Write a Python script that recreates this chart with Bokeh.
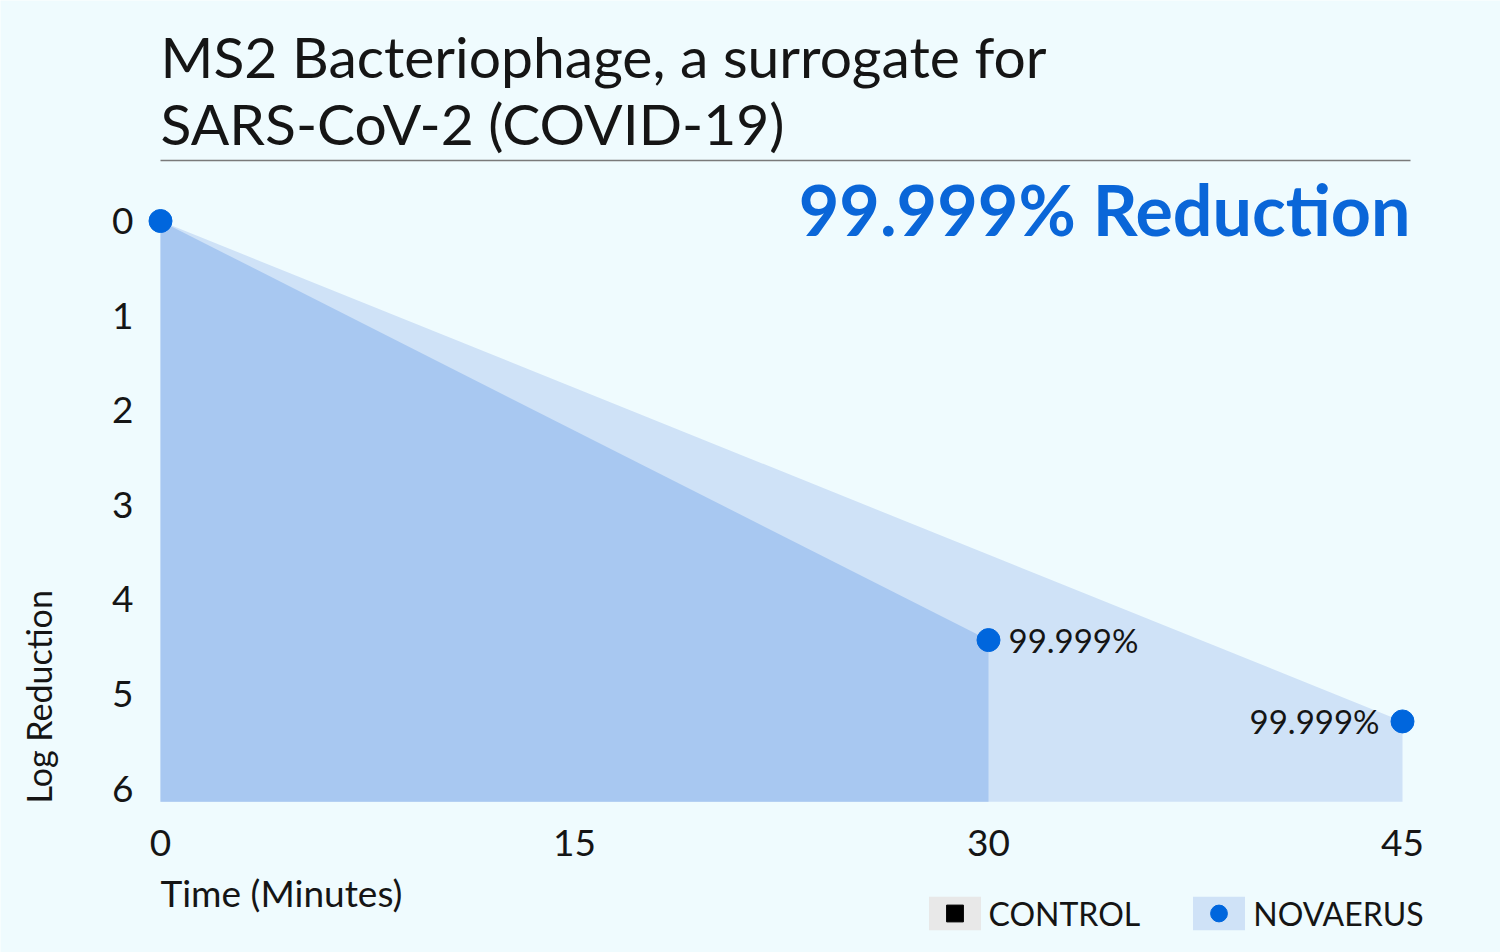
import numpy as np
from bokeh.plotting import figure
from bokeh.models import Range1d, FixedTicker, Label, Legend, LegendItem
from bokeh.core.properties import value
from bokeh.embed import file_html
from bokeh.resources import INLINE

# ---------------- data ----------------
title_lines = ["MS2 Bacteriophage, a surrogate for", "SARS-CoV-2 (COVID-19)"]
headline = "99.999% Reduction"
x_ticks = [0, 15, 30, 45]
y_ticks = [0, 1, 2, 3, 4, 5, 6]
x_label = "Time (Minutes)"
y_label = "Log Reduction"
series_names = ["CONTROL", "NOVAERUS"]

short_time = [0, 30]          # 30-minute test
short_log = [0, 4.43]
long_time = [0, 45]           # 45-minute test
long_log = [0, 5.29]
point_time = [0, 30, 45]
point_log = [0, 4.43, 5.29]
point_text = ["", "99.999%", "99.999%"]
control_time = [np.nan]       # control: not plotted, legend only
control_log = [np.nan]
base_log = 6.14

# ---------------- style ----------------
BG = "#effbfe"
FONT = "Lato"
TXT = "#151515"
W, H = 1500, 952
PX_X = 27.6            # pixels per minute
PX_Y = 94.6            # pixels per log unit
X0, Y0 = 160.0, 220.5  # screen position of (0, 0)
RIGHT = (1410 - X0) / PX_X   # right edge of the title rule / headline

p = figure(width=W, height=H, output_backend="svg", toolbar_location=None,
           x_range=Range1d(-X0 / PX_X, (W - X0) / PX_X),
           y_range=Range1d((H - Y0) / PX_Y, -Y0 / PX_Y),
           min_border=0)
p.background_fill_color = BG
p.border_fill_color = BG
p.outline_line_color = None
p.grid.visible = False

for ax, ticks, standoff, loc in ((p.xaxis, x_ticks, 22, base_log),
                                 (p.yaxis, y_ticks, 21, 0)):
    ax.ticker = FixedTicker(ticks=ticks)
    ax.fixed_location = loc
    ax.axis_line_color = None
    ax.major_tick_line_color = None
    ax.minor_tick_line_color = None
    ax.major_label_text_font = FONT
    ax.major_label_text_font_size = "37px"
    ax.major_label_text_color = TXT
    ax.major_label_standoff = standoff

light = p.varea(x=long_time, y1=long_log, y2=base_log, fill_color="#cfe2f7")
dark = p.varea(x=short_time, y1=short_log, y2=base_log, fill_color="#a8c8f1")
pts = p.scatter(x=point_time, y=point_log, size=23, color="#0066dd")

p.text(x=[point_time[1]], y=[point_log[1]], text=[point_text[1]], x_offset=20,
       text_align="left", text_baseline="middle", text_font=value(FONT),
       text_font_size="33px", text_color=TXT)
p.text(x=[point_time[2]], y=[point_log[2]], text=[point_text[2]], x_offset=-23,
       text_align="right", text_baseline="middle", text_font=value(FONT),
       text_font_size="33px", text_color=TXT)

# title block
p.add_layout(Label(x=0, y=(55 - Y0) / PX_Y, text=title_lines[0], text_font=FONT,
                   text_font_size="57px", text_color=TXT, text_baseline="middle"))
p.add_layout(Label(x=0, y=(122.5 - Y0) / PX_Y, text=title_lines[1], text_font=FONT,
                   text_font_size="57px", text_color=TXT, text_baseline="middle"))
rule_y = (160 - Y0) / PX_Y
p.segment(x0=[x_ticks[0]], x1=[RIGHT], y0=[rule_y], y1=[rule_y],
          line_color="#7a7a7a", line_width=1.5)
p.add_layout(Label(x=RIGHT, y=(208.5 - Y0) / PX_Y, text=headline, text_font=FONT,
                   text_font_style="bold", text_font_size="70px", text_color="#0a66d8",
                   text_align="right", text_baseline="middle"))

# axis titles
p.add_layout(Label(x=0, y=(891.5 - Y0) / PX_Y, text=x_label, text_font=FONT,
                   text_font_size="37px", text_color=TXT, text_baseline="middle"))
p.add_layout(Label(x=(38 - X0) / PX_X, y=(803 - Y0) / PX_Y, text=y_label, angle=np.pi / 2,
                   text_font=FONT, text_font_size="34px", text_color=TXT,
                   text_align="left", text_baseline="middle"))

# legend
ctrl_area = p.varea(x=control_time, y1=control_log, y2=control_log, fill_color="#e8e8e8")
ctrl_pts = p.scatter(x=control_time, y=control_log, marker="square", size=17, color="black")
legend = Legend(items=[LegendItem(label=series_names[0], renderers=[ctrl_area, ctrl_pts]),
                       LegendItem(label=series_names[1], renderers=[light, pts])],
                location=(921.5, 18), orientation="horizontal",
                glyph_width=65, glyph_height=42, label_standoff=2, spacing=46,
                padding=0, margin=0, border_line_color=None, background_fill_alpha=0,
                label_text_font=FONT, label_text_font_size="32px", label_text_color=TXT)
p.add_layout(legend)

open("out.html", "w").write(file_html(p, INLINE))
